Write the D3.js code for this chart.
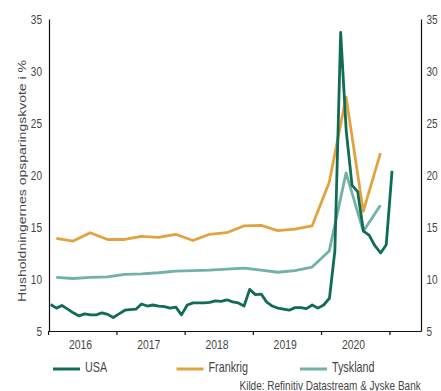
<!DOCTYPE html>
<html lang="da">
<head>
<meta charset="utf-8">
<title>Husholdningernes opsparingskvote</title>
<script src="https://cdnjs.cloudflare.com/ajax/libs/d3/7.8.5/d3.min.js"></script>
<style>
body { margin: 0; background: #fff; }
svg text { font-family: "Liberation Sans", Arial, sans-serif; fill: #454545; }
.domain { stroke: #111; stroke-width: 1.2; }
.tick line { stroke: #111; stroke-width: 1.2; }
</style>
</head>
<body>
<div id="chart"></div>
<script>

// values
var yTicks = [5, 10, 15, 20, 25, 30, 35]
var yearTicks = [2016, 2017, 2018, 2019, 2020, 2021]
var yearLabels = [2016, 2017, 2018, 2019, 2020]

// USA, monthly from jan 2016
var usa = [7.55, 7.2, 7.45, 7.1, 6.75, 6.45, 6.65, 6.55, 6.55, 6.75, 6.6, 6.3,
           6.65, 7.0, 7.05, 7.1, 7.6, 7.4, 7.5, 7.4, 7.35, 7.2, 7.3, 6.55,
           7.5, 7.7, 7.7, 7.7, 7.75, 7.9, 7.85, 8.0, 7.8, 7.7, 7.4, 9.0,
           8.5, 8.55, 7.8, 7.4, 7.2, 7.1, 7.0, 7.25, 7.25, 7.15, 7.5, 7.2,
           7.5, 8.15, 12.7, 33.7, 24.2, 19.0, 18.4, 14.6, 14.2, 13.2, 12.5, 13.3,
           20.4]

// Frankrig og Tyskland, quarterly from Q1 2016
var frankrig = [13.9, 13.65, 14.45, 13.8, 13.8, 14.1, 14.0, 14.3,
                13.7, 14.3, 14.45, 15.1, 15.15, 14.65, 14.8, 15.1,
                19.3, 27.5, 16.5, 22.1]
var tyskland = [10.15, 10.05, 10.15, 10.2, 10.45, 10.5, 10.6, 10.75,
                10.8, 10.85, 10.95, 11.05, 10.85, 10.65, 10.8, 11.15,
                12.7, 20.2, 14.6, 17.1]

var seriesNames = ['USA', 'Frankrig', 'Tyskland']
var seriesColors = ['#106c56', '#e2a33f', '#72b1a7']

var sx = 0.77   // the reference is squeezed horizontally

var svg = d3.select('#chart').append('svg')
    .attr('width', 441)
    .attr('height', 391)

var x = d3.scaleTime()
    .domain([new Date(2016, 0, 6), new Date(2021, 5, 19)])
    .range([49, 421])
var y = d3.scaleLinear()
    .domain([5, 35])
    .range([331, 19])

function monthly(vals) {
    return vals.map(function(v, i) {
        return { date: d3.timeDay.offset(d3.timeMonth.offset(new Date(2016, 0, 1), i), 14), value: v }
    })
}
function quarterly(vals) {
    return vals.map(function(v, i) {
        return { date: d3.timeMonth.offset(new Date(2016, 1, 14), 3 * i), value: v }
    })
}

var series = [monthly(usa), quarterly(frankrig), quarterly(tyskland)]

// axes
var xAxisTicks = svg.append('g')
    .attr('transform', 'translate(0,331)')
    .call(d3.axisBottom(x)
        .tickValues(yearTicks.map(function(d) { return new Date(d, 0, 1) }))
        .tickSize(4).tickSizeOuter(0).tickFormat(''))

var xAxisLabels = svg.append('g')
    .attr('transform', 'translate(-1.5,331)')
    .call(d3.axisBottom(x)
        .tickValues(yearLabels.map(function(d) { return new Date(d, 6, 1) }))
        .tickSize(0).tickFormat(d3.timeFormat('%Y')))
xAxisLabels.select('.domain').remove()
xAxisLabels.selectAll('text')
    .attr('y', 8)
    .attr('font-size', 13.5)
    .attr('transform', 'scale(' + sx + ',1)')
xAxisLabels.selectAll('.tick')
    .attr('transform', function(d) { return 'translate(' + x(d) + ',0)' })

var yLeft = svg.append('g')
    .attr('transform', 'translate(49,0)')
    .call(d3.axisLeft(y).tickValues(yTicks).tickSize(0).tickSizeOuter(0))
yLeft.selectAll('text')
    .attr('x', 0)
    .attr('font-size', 13)
    .attr('transform', 'translate(-7,0) scale(' + sx + ',1)')

var yRight = svg.append('g')
    .attr('transform', 'translate(421,0)')
    .call(d3.axisRight(y).tickValues(yTicks).tickSize(0).tickSizeOuter(0))
yRight.selectAll('text')
    .attr('x', 0)
    .attr('font-size', 13)
    .attr('transform', 'translate(5.5,0) scale(' + sx + ',1)')

// lines
var line = d3.line()
    .x(function(d) { return x(d.date) })
    .y(function(d) { return y(d.value) })

svg.append('g').selectAll('path')
    .data(series.slice().reverse())
    .enter().append('path')
    .attr('fill', 'none')
    .attr('stroke', function(d, i) { return seriesColors[2 - i] })
    .attr('stroke-width', 2.8)
    .attr('stroke-linejoin', 'round')
    .attr('d', line)

// y title
svg.append('text')
    .attr('transform', 'translate(25.5,181) scale(' + sx + ',1) rotate(-90)')
    .attr('text-anchor', 'middle')
    .attr('font-size', 14)
    .text('Husholdningernes opsparingskvote i %')

// legend
var legendX = [53, 176.5, 300]
var legend = svg.append('g').selectAll('g')
    .data(seriesNames)
    .enter().append('g')
    .attr('transform', function(d, i) { return 'translate(' + legendX[i] + ',369)' })
legend.append('line')
    .attr('x1', 0).attr('x2', 27)
    .attr('stroke', function(d, i) { return seriesColors[i] })
    .attr('stroke-width', 3)
legend.append('text')
    .attr('transform', 'translate(32,3) scale(' + sx + ',1)')
    .attr('font-size', 14)
    .text(function(d) { return d })

// source
svg.append('text')
    .attr('transform', 'translate(239.5,390) scale(' + sx + ',1)')
    .attr('font-size', 13)
    .text('Kilde: Refinitiv Datastream & Jyske Bank')

</script>
</body>
</html>
